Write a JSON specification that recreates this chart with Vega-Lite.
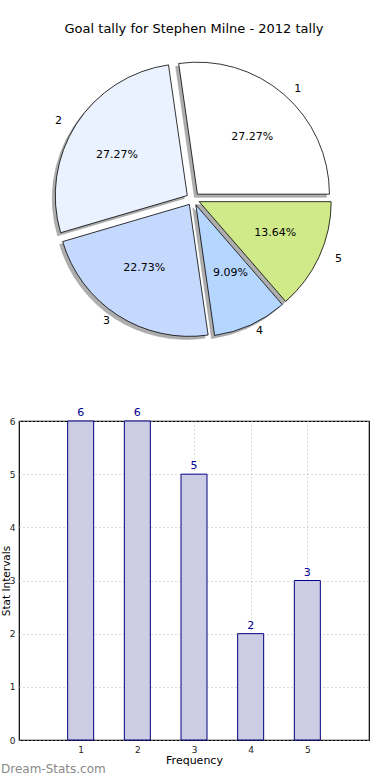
{
  "$schema": "https://vega.github.io/schema/vega-lite/v6.json",
  "padding": 0,
  "bounds": "flush",
  "spacing": 23,
  "config": {
    "view": {"stroke": null},
    "font": "DejaVu Sans",
    "axis": {"labelFont": "DejaVu Sans", "titleFont": "DejaVu Sans"}
  },
  "datasets": {
    "goals": [
      {"category": "1", "value": 6},
      {"category": "2", "value": 6},
      {"category": "3", "value": 5},
      {"category": "4", "value": 2},
      {"category": "5", "value": 3}
    ]
  },
  "vconcat": [
    {
      "width": 350,
      "height": 398,
      "title": {"text": "Goal tally for Stephen Milne - 2012 tally", "fontSize": 13, "fontWeight": "normal", "font": "DejaVu Sans", "color": "#000", "offset": -36, "anchor": "middle"},
      "data": {"name": "goals"},
      "transform": [
        {"joinaggregate": [{"op": "sum", "field": "value", "as": "total"}]},
        {"window": [{"op": "sum", "field": "value", "as": "cum"}], "sort": [{"field": "category", "order": "ascending"}], "frame": [null, 0]},
        {"calculate": "2*PI*(datum.cum - datum.value)/datum.total", "as": "a0"},
        {"calculate": "2*PI*datum.cum/datum.total", "as": "a1"},
        {"calculate": "(datum.a0 + datum.a1)/2", "as": "m"},
        {"calculate": "PI/2 - datum.a1", "as": "t0"},
        {"calculate": "PI/2 - datum.a0", "as": "t1"},
        {"calculate": "0.05*136*cos(datum.m)", "as": "ex"},
        {"calculate": "0.05*128*sin(datum.m)", "as": "ey"},
        {"calculate": "1.15*139*cos(datum.m)", "as": "cx"},
        {"calculate": "1.15*126*sin(datum.m)", "as": "cy"},
        {"calculate": "0.65*139*cos(datum.m)", "as": "px"},
        {"calculate": "0.65*126*sin(datum.m)", "as": "py"},
        {"calculate": "format(100*datum.value/datum.total, '.2f') + '%'", "as": "pct"}
      ],
      "layer": [
        {
          "mark": {"type": "arc", "radius": 132, "fill": "#8c8c8c", "opacity": 0.7, "xOffset": -3, "yOffset": 3, "stroke": "#666", "strokeWidth": 0.5},
          "encoding": {
            "theta": {"field": "t0", "type": "quantitative", "scale": null},
            "theta2": {"field": "t1"},
            "x": {"field": "ex", "type": "quantitative", "scale": {"domain": [-174, 176]}, "axis": null},
            "y": {"field": "ey", "type": "quantitative", "scale": {"domain": [-199, 199]}, "axis": null}
          }
        },
        {
          "mark": {"type": "arc", "radius": 132, "stroke": "#000", "strokeWidth": 0.8},
          "encoding": {
            "theta": {"field": "t0", "type": "quantitative", "scale": null},
            "theta2": {"field": "t1"},
            "x": {"field": "ex", "type": "quantitative", "scale": {"domain": [-174, 176]}, "axis": null},
            "y": {"field": "ey", "type": "quantitative", "scale": {"domain": [-199, 199]}, "axis": null},
            "fill": {"field": "category", "type": "nominal", "scale": {"domain": ["1", "2", "3", "4", "5"], "range": ["#ffffff", "#eaf1ff", "#c5d9ff", "#b4d6ff", "#d0ea8a"]}, "legend": null}
          }
        },
        {
          "mark": {"type": "text", "fontSize": 11, "font": "DejaVu Sans", "color": "#000"},
          "encoding": {
            "x": {"field": "cx", "type": "quantitative", "scale": {"domain": [-174, 176]}, "axis": null},
            "y": {"field": "cy", "type": "quantitative", "scale": {"domain": [-199, 199]}, "axis": null},
            "text": {"field": "category"}
          }
        },
        {
          "mark": {"type": "text", "fontSize": 11, "font": "DejaVu Sans", "color": "#000"},
          "encoding": {
            "x": {"field": "px", "type": "quantitative", "scale": {"domain": [-174, 176]}, "axis": null},
            "y": {"field": "py", "type": "quantitative", "scale": {"domain": [-199, 199]}, "axis": null},
            "text": {"field": "pct"}
          }
        }
      ]
    },
    {
      "width": 350,
      "height": 319,
      "view": {"stroke": "#000", "strokeWidth": 1.2},
      "title": {"text": "Dream-Stats.com", "orient": "bottom", "anchor": "start", "frame": "group", "dx": -18, "offset": -1, "fontSize": 12, "fontWeight": "normal", "color": "#8a8a8a", "font": "DejaVu Sans"},
      "data": {"name": "goals"},
      "transform": [{"calculate": "toNumber(datum.category)", "as": "pos"}],
      "encoding": {
        "x": {"field": "pos", "type": "quantitative", "scale": {"domain": [0, 6], "nice": false},
          "axis": {"values": [1, 2, 3, 4, 5], "title": "Frequency", "titleFontSize": 11, "titleFontWeight": "normal", "titleColor": "#000", "titlePadding": 0, "labelFontSize": 9, "labelColor": "#222", "labelPadding": 5, "ticks": false, "domain": false, "grid": true, "gridDash": [1, 3], "gridColor": "#b4b4b4", "gridWidth": 1}},
        "y": {"field": "value", "type": "quantitative", "scale": {"domain": [0, 6], "nice": false},
          "axis": {"values": [0, 1, 2, 3, 4, 5, 6], "title": "Stat Intervals", "titleFontSize": 10.5, "titleFontWeight": "normal", "titleColor": "#000", "titleX": -12.5, "titleBaseline": "middle", "labelFontSize": 9, "labelColor": "#222", "labelPadding": 4, "ticks": false, "domain": false, "grid": true, "gridDash": [1, 3], "gridColor": "#b4b4b4", "gridWidth": 1}}
      },
      "layer": [
        {"mark": {"type": "bar", "width": 26, "fill": "#ccccE5", "stroke": "#000080", "strokeWidth": 1}},
        {"mark": {"type": "text", "baseline": "bottom", "dy": -3, "fontSize": 11, "color": "#000090", "font": "DejaVu Sans"}, "encoding": {"text": {"field": "value"}}}
      ]
    }
  ]
}
